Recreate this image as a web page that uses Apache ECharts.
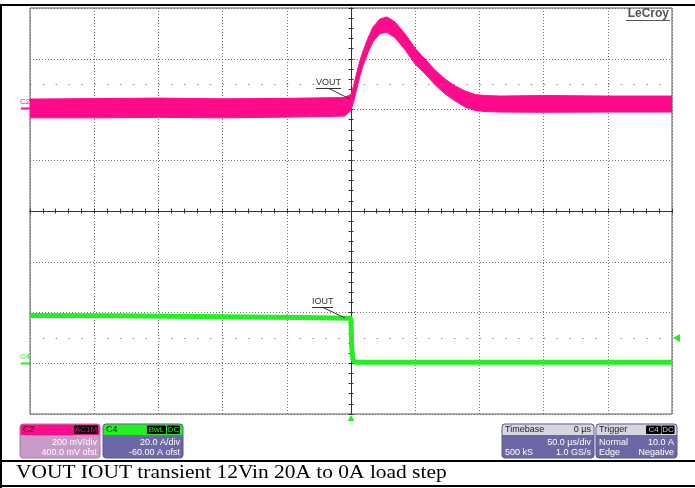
<!DOCTYPE html>
<html>
<head>
<meta charset="utf-8">
<script src="https://cdn.jsdelivr.net/npm/echarts@6/dist/echarts.min.js"></script>
<style>
  html, body { margin: 0; padding: 0; background: #fff; }
  #chart { width: 695px; height: 488px; }
</style>
</head>
<body>
<div id="chart"></div>
<script>
// VOUT (C2), mV, AC coupled: noisy band read as upper / lower envelope
const vTime  = [-250, -200, -150, -100, -50, -5, 0, 2.3, 4.7, 7.0, 9.3, 13.2, 17.1, 22.6, 28.0, 34.3, 42.1, 49.8, 57.6, 65.4, 73.2, 81.0, 88.8, 96.6, 104.4, 116, 150, 200, 250];
const vUpper = [41, 43, 45, 42, 44, 47, 59, 99, 150, 193, 229, 281, 325, 357, 365, 345, 298, 242, 199, 156, 120, 93, 73, 59, 55, 53, 55, 53, 53];
const vLower = [-33, -33, -31, -33, -30, -26, -4, 35, 87, 133, 172, 224, 267, 299, 304, 283, 235, 180, 141, 98, 62, 34, 10, -4, -8, -10, -11, -10, -10];

// IOUT (C4), A
const iTime = [-250, -180, -100, -40, -2, 0, 0.4, 1.5, 3, 60, 150, 250];
const iVal  = [18.8, 18.7, 18.3, 18.0, 17.7, 17.6, 7.2, 1.5, 0.4, 0.4, 0.4, 0.4];

// marker levels
const voutLevel = 100;   // mV dotted row
const trigLevel = 10;    // A trigger level

const caption = 'VOUT IOUT transient 12Vin 20A to 0A load step';

const pink = '#ff0a8a';
const green = '#22f022';
const dotted = { color: '#707070', width: 1, type: [1, 2] };
const sans = 'Liberation Sans';

const chart = echarts.init(document.getElementById('chart'), null, { renderer: 'canvas' });

function rect(x, y, w, h, fill, r, stroke) {
  return { type: 'rect', silent: true, z: 100, shape: { x: x, y: y, width: w, height: h, r: r || 0 },
    style: { fill: fill, stroke: stroke || null, lineWidth: stroke ? 1 : 0 } };
}
function txt(x, y, s, fill, size, align, family, weight) {
  return { type: 'text', silent: true, z: 101, x: x, y: y,
    style: { text: s, fill: fill, fontSize: size, fontFamily: family || sans, fontWeight: weight || 'normal',
      textAlign: align || 'left', textVerticalAlign: 'middle' } };
}
function line(x1, y1, x2, y2, color, w) {
  return { type: 'line', silent: true, z: 101, shape: { x1: x1, y1: y1, x2: x2, y2: y2 }, style: { stroke: color, lineWidth: w || 1 } };
}

const captionText = txt(16, 473, caption, '#000', 18, 'left', 'Liberation Serif');
captionText.scaleX = 1.19;

const graphics = [
  // frame
  rect(0, 4, 695, 2, '#000'),
  rect(0, 4, 2, 484, '#000'),
  rect(0, 460, 695, 2, '#000'),
  rect(0, 485, 695, 2, '#000'),
  captionText,

  // logo
  txt(669, 14, 'LeCroy', '#555', 12, 'right', sans, 'bold'),
  line(626, 20.5, 670, 20.5, '#555', 1),

  // trace labels
  txt(316, 83, 'VOUT', '#333', 9),
  line(316, 88.5, 341, 88.5, '#333', 1),
  line(329, 88.5, 350, 99, '#333', 1),
  txt(312, 301.5, 'IOUT', '#333', 9),
  line(312, 307.5, 333, 307.5, '#333', 1),
  line(323, 307.5, 345, 318, '#333', 1),

  // channel markers
  txt(20, 102, 'C2', pink, 8),
  line(21, 108.5, 30, 108.5, pink, 2),
  txt(20, 357, 'C4', green, 8),
  line(21, 363.5, 30, 363.5, green, 2),
  { type: 'polygon', silent: true, z: 101, shape: { points: [[673, 338], [680, 334], [680, 342]] }, style: { fill: green } },
  { type: 'polygon', silent: true, z: 101, shape: { points: [[351, 415], [347.5, 421], [354.5, 421]] }, style: { fill: green } },

  // C2 box
  rect(20, 424, 80, 34, '#c89ac8', 3, '#a878b0'),
  rect(20.5, 424.5, 79, 10.5, pink, [3, 3, 0, 0]),
  txt(23, 430, 'C2', '#300', 9),
  rect(74, 425.5, 24, 8.5, '#000', 1),
  txt(86, 430, 'AC1M', pink, 8, 'center'),
  txt(97, 443, '200 mV/div', '#fff', 9, 'right'),
  txt(97, 453, '400.0 mV ofst', '#fff', 9, 'right'),

  // C4 box
  rect(103, 424, 80, 34, '#6e68a8', 3, '#5a5490'),
  rect(103.5, 424.5, 79, 10.5, green, [3, 3, 0, 0]),
  txt(106, 430, 'C4', '#030', 9),
  rect(147, 425.5, 19, 8.5, '#000', 1),
  txt(156.5, 430, 'BwL', green, 8, 'center'),
  rect(167, 425.5, 13, 8.5, '#000', 1),
  txt(173.5, 430, 'DC', green, 8, 'center'),
  txt(180, 443, '20.0 A/div', '#fff', 9, 'right'),
  txt(180, 453, '-60.00 A ofst', '#fff', 9, 'right'),

  // Timebase box
  rect(502, 424, 92, 34, '#6c68a6', 3, '#58548e'),
  rect(502.5, 424.5, 91, 10.5, '#d6d6e0', [3, 3, 0, 0]),
  txt(505, 430, 'Timebase', '#222', 9),
  txt(591, 430, '0 µs', '#222', 9, 'right'),
  txt(591, 443, '50.0 µs/div', '#fff', 9, 'right'),
  txt(505, 453, '500 kS', '#fff', 9),
  txt(591, 453, '1.0 GS/s', '#fff', 9, 'right'),

  // Trigger box
  rect(596, 424, 81, 34, '#6c68a6', 3, '#58548e'),
  rect(596.5, 424.5, 80, 10.5, '#d6d6e0', [3, 3, 0, 0]),
  txt(599, 430, 'Trigger', '#222', 9),
  rect(646, 425.5, 15, 8.5, '#000', 1),
  txt(653.5, 430, 'C4', '#ccc', 8, 'center'),
  rect(661.5, 425.5, 13, 8.5, '#000', 1),
  txt(668, 430, 'DC', '#ccc', 8, 'center'),
  txt(599, 443, 'Normal', '#fff', 9),
  txt(674, 443, '10.0 A', '#fff', 9, 'right'),
  txt(599, 453, 'Edge', '#fff', 9),
  txt(674, 453, 'Negative', '#fff', 9, 'right')
];

const hiddenX = { axisLabel: { show: false }, splitLine: { show: false } };
const centerTick = { color: '#333', width: 1 };

// the VOUT noise band: upper envelope forward, lower envelope back, through the axis scales
function renderBand(params, api) {
  if (params.dataIndex !== 0) return null;
  const up = vTime.map((t, i) => api.coord([t, vUpper[i]]));
  const lo = vTime.map((t, i) => api.coord([t, vLower[i]])).reverse();
  return {
    type: 'polygon',
    shape: { points: up.concat(lo) },
    style: { fill: pink, stroke: pink, lineWidth: 1, lineJoin: 'round' }
  };
}

const option = {
  animation: false,
  backgroundColor: '#fff',
  grid: { left: 30, right: 23, top: 8, bottom: 74, show: true, borderColor: '#5a5a5a', borderWidth: 1, backgroundColor: '#fff' },
  xAxis: [
    { type: 'value', min: -250, max: 250, interval: 50, axisLine: { show: false }, axisTick: { show: false },
      axisLabel: { show: false }, splitLine: { show: true, lineStyle: dotted } },
    Object.assign({ type: 'value', min: -250, max: 250, interval: 50, position: 'bottom',
      axisLine: { show: true, onZero: true, onZeroAxisIndex: 2, lineStyle: centerTick },
      axisTick: { show: true, length: 2.5, lineStyle: centerTick },
      minorTick: { show: true, splitNumber: 5, length: 2.5, lineStyle: centerTick } }, hiddenX),
    Object.assign({ type: 'value', min: -250, max: 250, interval: 50, position: 'bottom',
      axisLine: { show: true, onZero: true, onZeroAxisIndex: 2, lineStyle: centerTick },
      axisTick: { show: true, inside: true, length: 2.5, lineStyle: centerTick },
      minorTick: { show: true, splitNumber: 5, length: 2.5, lineStyle: centerTick } }, hiddenX)
  ],
  yAxis: [
    { type: 'value', min: -1200, max: 400, interval: 200, show: false },
    { type: 'value', min: -20, max: 140, interval: 20, show: false },
    { type: 'value', min: -4, max: 4, interval: 1, position: 'left',
      axisLine: { show: true, onZero: true, onZeroAxisIndex: 0, lineStyle: centerTick },
      axisTick: { show: true, length: 2.5, lineStyle: centerTick },
      minorTick: { show: true, splitNumber: 5, length: 2.5, lineStyle: centerTick },
      axisLabel: { show: false }, splitLine: { show: true, lineStyle: dotted } },
    { type: 'value', min: -4, max: 4, interval: 1, position: 'left',
      axisLine: { show: true, onZero: true, onZeroAxisIndex: 0, lineStyle: centerTick },
      axisTick: { show: true, inside: true, length: 2.5, lineStyle: centerTick },
      minorTick: { show: true, splitNumber: 5, length: 2.5, lineStyle: centerTick },
      axisLabel: { show: false }, splitLine: { show: false } }
  ],
  series: [
    { type: 'line', name: 'levels', xAxisIndex: 0, yAxisIndex: 0, data: [], silent: true, z: 2,
      markLine: { silent: true, symbol: 'none', label: { show: false },
        lineStyle: { color: '#8a8a8a', width: 1.2, type: [1.5, 11.34] }, data: [{ yAxis: voutLevel }] } },
    { type: 'custom', name: 'VOUT', xAxisIndex: 0, yAxisIndex: 0, z: 4, clip: true, silent: true,
      data: vTime.map((t, i) => [t, vUpper[i], vLower[i]]), encode: { x: 0, y: [1, 2] },
      renderItem: renderBand },
    { type: 'line', name: 'IOUT', xAxisIndex: 0, yAxisIndex: 1, z: 4,
      data: iTime.map((t, i) => [t, iVal[i]]), symbol: 'none',
      lineStyle: { width: 5, color: green, cap: 'butt' }, silent: true,
      markLine: { silent: true, symbol: 'none', label: { show: false },
        lineStyle: { color: '#8a8a8a', width: 1.2, type: [1.5, 11.34] }, data: [{ yAxis: trigLevel }] } }
  ],
  graphic: graphics
};

chart.setOption(option);
</script>
</body>
</html>
